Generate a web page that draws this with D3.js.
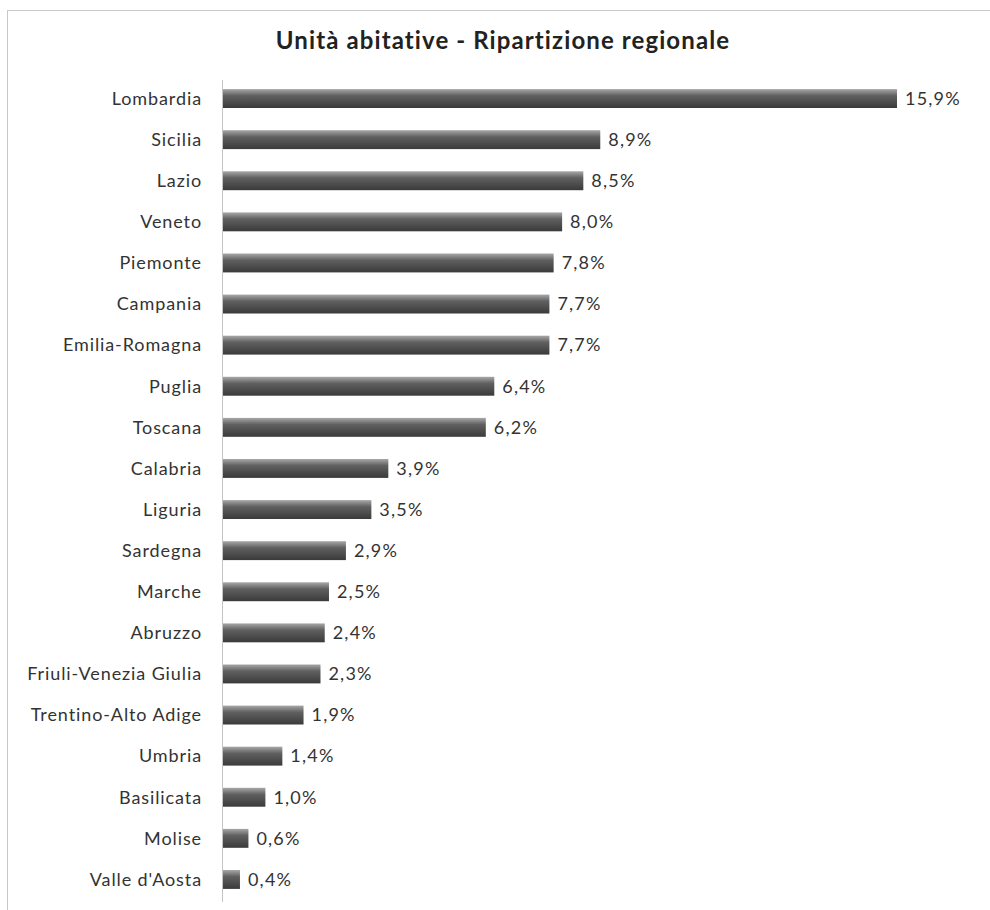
<!DOCTYPE html>
<meta charset="utf-8" />
<style>
  body { margin: 0; background: #fff; }
  svg text { font-family: Lato, "Open Sans", sans-serif; }
</style>
<body>
<div id="grafico"></div>
<script src="https://cdn.jsdelivr.net/npm/d3@7"></script>
<script>
  var regioni = ["Lombardia", "Sicilia", "Lazio", "Veneto", "Piemonte", "Campania",
    "Emilia-Romagna", "Puglia", "Toscana", "Calabria", "Liguria", "Sardegna", "Marche",
    "Abruzzo", "Friuli-Venezia Giulia", "Trentino-Alto Adige", "Umbria", "Basilicata",
    "Molise", "Valle d'Aosta"];
  var percentuali = [15.9, 8.9, 8.5, 8.0, 7.8, 7.7, 7.7, 6.4, 6.2, 3.9, 3.5, 2.9, 2.5,
    2.4, 2.3, 1.9, 1.4, 1.0, 0.6, 0.4];
  var titolo = "Unità abitative - Ripartizione regionale";

  var larghezza = 990, altezza = 910;
  var svg = d3.select("#grafico").append("svg")
    .attr("width", larghezza).attr("height", altezza);

  // cornice
  svg.append("rect")
    .attr("x", 7.5).attr("y", 10.5)
    .attr("width", 990).attr("height", 910)
    .attr("fill", "none").attr("stroke", "#c8c8c8");

  // gradiente barre
  var grad = svg.append("defs").append("linearGradient")
    .attr("id", "gradBarra").attr("x1", 0).attr("y1", 0).attr("x2", 0).attr("y2", 1);
  grad.append("stop").attr("offset", "0%").attr("stop-color", "#a8a8a8");
  grad.append("stop").attr("offset", "35%").attr("stop-color", "#606060");
  grad.append("stop").attr("offset", "100%").attr("stop-color", "#3a3a3a");

  var x = d3.scaleLinear().domain([0, 15.9]).range([223, 897]);
  var y = d3.scaleBand().domain(regioni).range([78, 900]).paddingInner(0.54).paddingOuter(0.27);

  var dati = regioni.map(function (r, i) { return { nome: r, valore: percentuali[i] }; });

  svg.append("text")
    .attr("x", 503).attr("y", 49)
    .attr("text-anchor", "middle")
    .attr("font-size", "24px").attr("font-weight", "700")
    .attr("letter-spacing", "1.1px")
    .attr("fill", "#222")
    .text(titolo);

  svg.selectAll("rect.barra")
    .data(dati).enter().append("rect")
    .attr("class", "barra")
    .attr("x", x(0))
    .attr("y", function (d) { return y(d.nome); })
    .attr("width", function (d) { return x(d.valore) - x(0); })
    .attr("height", y.bandwidth())
    .attr("fill", "url(#gradBarra)");

  // asse verticale
  svg.append("line")
    .attr("x1", 222.5).attr("x2", 222.5)
    .attr("y1", 80).attr("y2", 902)
    .attr("stroke", "#c4c4c4");

  svg.selectAll("text.etichetta")
    .data(dati).enter().append("text")
    .attr("class", "etichetta")
    .attr("x", 202)
    .attr("y", function (d) { return y(d.nome) + y.bandwidth() / 2; })
    .attr("dy", "0.35em")
    .attr("text-anchor", "end")
    .attr("font-size", "18px")
    .attr("letter-spacing", "0.9px")
    .attr("fill", "#333")
    .text(function (d) { return d.nome; });

  svg.selectAll("text.valore")
    .data(dati).enter().append("text")
    .attr("class", "valore")
    .attr("x", function (d) { return x(d.valore) + 8; })
    .attr("y", function (d) { return y(d.nome) + y.bandwidth() / 2; })
    .attr("dy", "0.35em")
    .attr("font-size", "18px")
    .attr("letter-spacing", "1.2px")
    .attr("fill", "#333")
    .text(function (d) { return d.valore.toFixed(1).replace(".", ",") + "%"; });
</script>
</body>
